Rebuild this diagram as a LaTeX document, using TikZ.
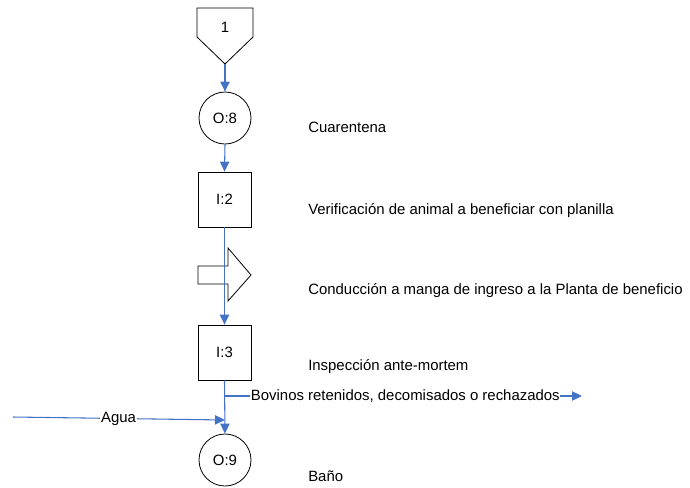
\documentclass[tikz,border=0pt]{standalone}
\usepackage{fontspec}
\setmainfont{Liberation Sans}
\usetikzlibrary{arrows.meta}
\definecolor{flow}{RGB}{68,114,196}
\begin{document}
\begin{tikzpicture}[x=0.75pt,y=-0.75pt,
  every node/.style={font=\fontsize{11.2}{13}\selectfont, inner sep=0pt},
  opcircle/.style={draw=black, line width=0.6pt, circle, minimum size=52*0.75pt},
  inspbox/.style={draw=black, line width=0.6pt, rectangle, minimum width=53*0.75pt, minimum height=55*0.75pt},
  shapeline/.style={draw=black, line width=0.6pt, line join=miter},
  flowline/.style={draw=flow, line width=0.8pt},
  flowarrow/.style={flowline, -{Triangle[length=7.5pt,width=7pt]}},
  desc/.style={anchor=base west},
  onwire/.style={fill=white, inner sep=0.5pt}]
\useasboundingbox (0,0) rectangle (690,487);

% start connector (off-page pentagon)
\draw[shapeline] (197,8) -- (253,8) -- (253,37) -- (225,64) -- (197,37) -- cycle;
\node (n1) at (225,27) {1};
\coordinate (n1tip) at (225,64);

% process symbols
\node[opcircle] (o8) at (225,118) {O:8};
\node[inspbox] (i2) at (224.5,199.5) {I:2};
\node[inspbox] (i3) at (224.5,352.5) {I:3};
\node[opcircle] (o9) at (225,460) {O:9};

% transport arrow
\coordinate (tr) at (224.5,274.5);
\draw[shapeline] (198,266) -- (228,266) -- (228,248) -- (251,275) -- (228,301) -- (228,284) -- (198,284) -- cycle;

% flow connectors
\draw[flowarrow] (n1tip) -- (o8.north);
\draw[flowarrow] (o8.south) -- (i2.north);
\draw[flowarrow] (i2.south) -- (i3.north);
\draw[flowarrow] (i3.south) -- (o9.north);

% rejected animals leave the line
\coordinate (rj) at (225,396);
\coordinate (rjend) at (582,396);
\draw[flowarrow] (rj) -- (rjend);
\node[onwire, anchor=west] (rjlbl) at (250,396.5) {Bovinos retenidos, decomisados o rechazados};

% water input
\coordinate (win) at (13,417);
\coordinate (wj) at (225,420);
\draw[flowarrow] (win) -- (wj);
\node[onwire] (wlbl) at (118.5,418.5) {Agua};

% step descriptions
\node[desc] (d1) at (308,132) {Cuarentena};
\node[desc] (d2) at (308,214) {Verificación de animal a beneficiar con planilla};
\node[desc] (d3) at (308,294) {Conducción a manga de ingreso a la Planta de beneficio};
\node[desc] (d4) at (308,370) {Inspección ante-mortem};
\node[desc] (d5) at (308,481) {Baño};
\end{tikzpicture}
\end{document}
